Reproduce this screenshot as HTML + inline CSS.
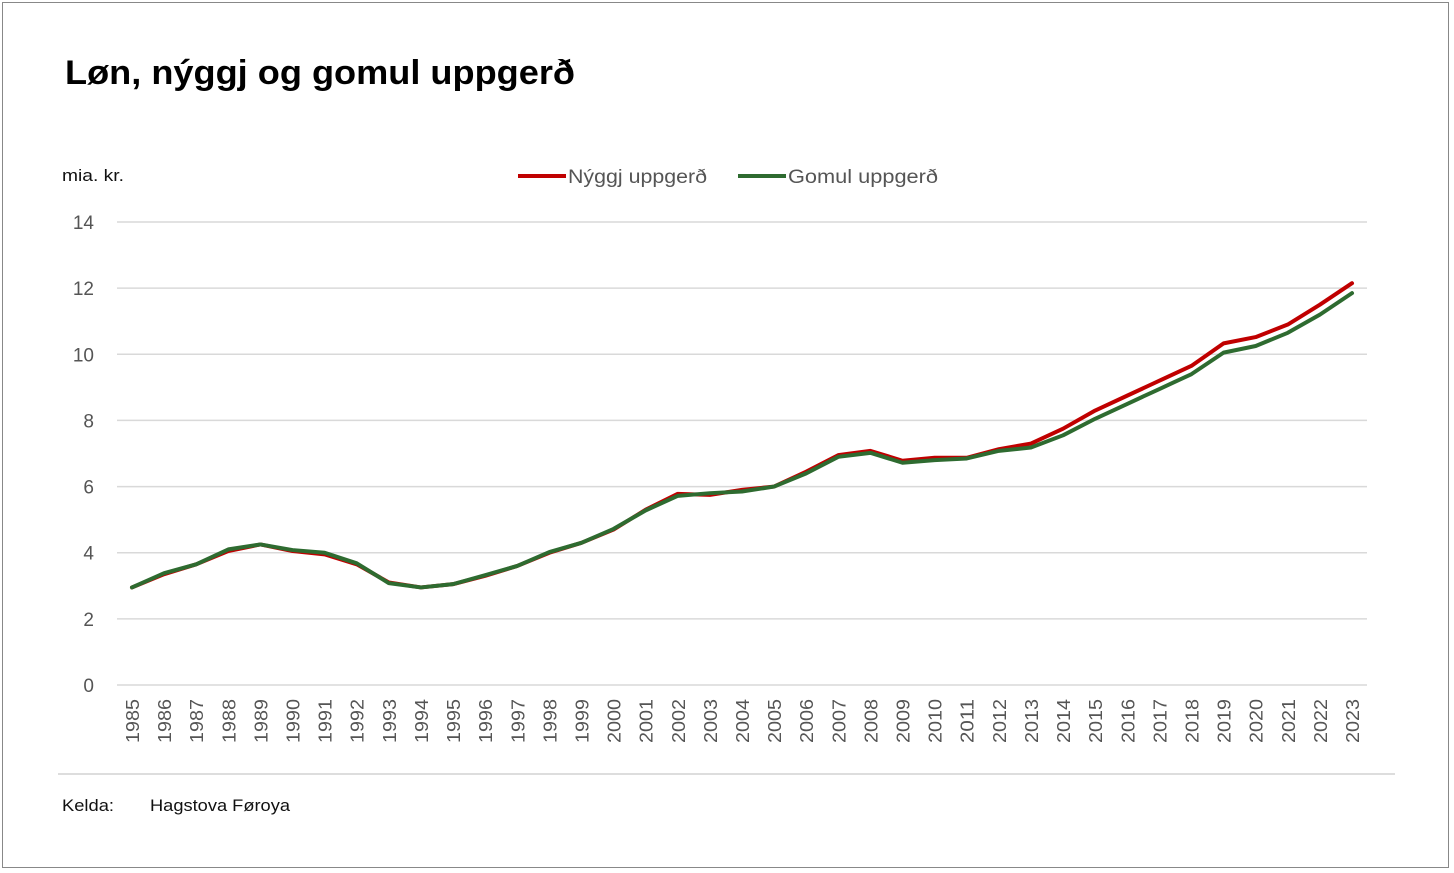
<!DOCTYPE html>
<html><head><meta charset="utf-8"><style>
body{margin:0;background:#fff;font-family:"Liberation Sans","DejaVu Sans",sans-serif;}
#frame{position:absolute;left:2px;top:2px;width:1447px;height:866px;border:1px solid #888;box-sizing:border-box;}
</style></head><body>
<div id="frame"></div>
<svg width="1454" height="873" style="position:absolute;left:0;top:0">
<text x="65" y="84" font-size="34" font-weight="bold" fill="#000" textLength="510" lengthAdjust="spacingAndGlyphs">Løn, nýggj og gomul uppgerð</text>
<text x="62" y="181" font-size="17" fill="#111" textLength="62" lengthAdjust="spacingAndGlyphs">mia. kr.</text>
<g><line x1="518" y1="176" x2="566" y2="176" stroke="#c00000" stroke-width="4"/><text x="568" y="183" font-size="19" fill="#555" textLength="139" lengthAdjust="spacingAndGlyphs">Nýggj uppgerð</text></g>
<g><line x1="738" y1="176" x2="786" y2="176" stroke="#2e6b30" stroke-width="4"/><text x="788" y="183" font-size="19" fill="#555" textLength="150" lengthAdjust="spacingAndGlyphs">Gomul uppgerð</text></g>
<g id="grid"></g><g id="xl"></g><g id="lines"></g>
<line x1="58" y1="774" x2="1395" y2="774" stroke="#bbb"/>
<text x="62" y="811" font-size="17" fill="#111" textLength="52" lengthAdjust="spacingAndGlyphs">Kelda:</text>
<text x="150" y="811" font-size="17" fill="#111" textLength="140" lengthAdjust="spacingAndGlyphs">Hagstova Føroya</text>
</svg>
<script>
const years=[];for(let y=1985;y<=2023;y++)years.push(y);
const yTicks=[0,2,4,6,8,10,12,14];
const newSeries=[2.95,3.35,3.65,4.05,4.25,4.05,3.95,3.65,3.1,2.95,3.05,3.3,3.6,4.0,4.3,4.7,5.3,5.78,5.75,5.9,6.0,6.45,6.95,7.08,6.78,6.87,6.87,7.13,7.3,7.75,8.3,8.75,9.2,9.65,10.33,10.52,10.9,11.5,12.15];
const oldSeries=[2.95,3.38,3.65,4.1,4.25,4.08,4.0,3.68,3.08,2.95,3.05,3.32,3.6,4.02,4.3,4.72,5.28,5.72,5.8,5.85,6.0,6.4,6.9,7.02,6.72,6.8,6.85,7.08,7.18,7.55,8.05,8.5,8.95,9.4,10.05,10.25,10.65,11.2,11.85];
const NS="http://www.w3.org/2000/svg";
const xS=i=>132+i*(1352-132)/(years.length-1);
const yS=v=>685-v*(685-222)/14;
const grid=document.getElementById('grid');
yTicks.forEach(t=>{
 const l=document.createElementNS(NS,'line');
 l.setAttribute('x1',117);l.setAttribute('x2',1367);l.setAttribute('y1',yS(t));l.setAttribute('y2',yS(t));
 l.setAttribute('stroke','#d9d9d9');l.setAttribute('stroke-width',1.5);
 
 
 grid.appendChild(l);
 const tx=document.createElementNS(NS,'text');
 tx.setAttribute('x',94);tx.setAttribute('y',yS(t)+7);tx.setAttribute('text-anchor','end');
 tx.setAttribute('font-size','19');tx.setAttribute('fill','#555');tx.textContent=t;
 
 
 grid.appendChild(tx);
});
const xl=document.getElementById('xl');
years.forEach((y,i)=>{
 const t=document.createElementNS(NS,'text');
 const x=xS(i)+7,yy=699;
 t.setAttribute('transform',`translate(${x},${yy}) rotate(-90)`);
 t.setAttribute('text-anchor','end');t.setAttribute('font-size','18');t.setAttribute('fill','#555');
 t.setAttribute('textLength','44');t.setAttribute('lengthAdjust','spacingAndGlyphs');
 t.textContent=y;
 
 
 xl.appendChild(t);
});
const lines=document.getElementById('lines');
[[newSeries,'#c00000','line-new'],[oldSeries,'#2e6b30','line-old']].forEach(([s,c,n])=>{
 const p=document.createElementNS(NS,'polyline');
 p.setAttribute('points',s.map((v,i)=>xS(i)+','+yS(v)).join(' '));
 p.setAttribute('fill','none');p.setAttribute('stroke',c);p.setAttribute('stroke-width',4);
 p.setAttribute('stroke-linejoin','round');p.setAttribute('stroke-linecap','round');
 
 
 lines.appendChild(p);
});
</script>
</body></html>
